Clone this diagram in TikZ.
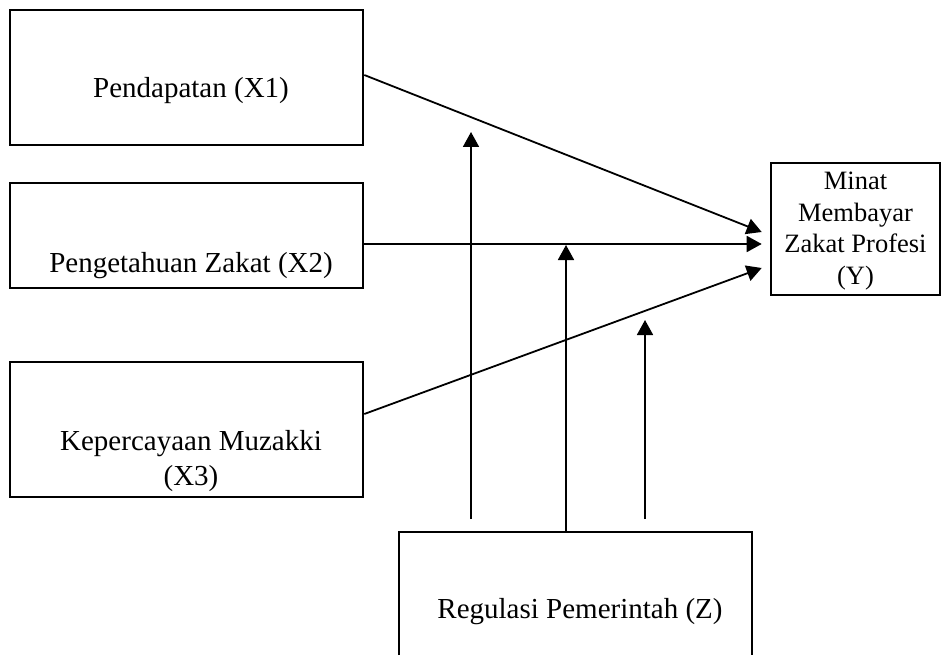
\documentclass[tikz,border=0pt]{standalone}
\usepackage{fontspec}
\setmainfont{Liberation Serif}
\usetikzlibrary{arrows.meta, positioning, calc}
\tikzset{
  box/.style={draw, line width=2.6pt, inner sep=0pt},
  lbl/.style={inner sep=0pt, font=\fontsize{29}{35}\selectfont, align=center},
  arr/.style={line width=1.8pt, -{Triangle[length=15pt, width=16pt]}},
  ln/.style={line width=1.8pt}
}
\begin{document}
\begin{tikzpicture}[x=1pt, y=-1pt]
        \useasboundingbox (0,0) rectangle (942,663);
        \node[box, minimum width=353pt, minimum height=135pt] (x1) at (186.5,77.5) {};
        \node[box, minimum width=353pt, minimum height=105pt] (x2) at (186.5,235.5) {};
        \node[box, minimum width=353pt, minimum height=135pt] (x3) at (186.5,429.5) {};
        \node[box, minimum width=169pt, minimum height=132pt] (y) at (855.5,229) {};
        \node[lbl, font=\fontsize{26.5}{31.5}\selectfont] (yt) at ($(y.center)+(0,2)$) {Minat\\Membayar\\Zakat Profesi\\(Y)};

        \node[lbl, anchor=base] (x1t) at (191,98) {Pendapatan (X1)};
        \node[lbl, anchor=base] (x2t) at (191,272) {Pengetahuan Zakat (X2)};
        \node[lbl, anchor=north] (x3t) at (191,430) {Kepercayaan Muzakki\\(X3)};

        \coordinate (zsw) at (399,655);
        \coordinate (znw) at (399,532);
        \coordinate (zne) at (752,532);
        \coordinate (zse) at (752,655);
        \draw[line width=2.6pt] (zsw) -- (znw) -- (zne) -- (zse);
        \node[lbl, anchor=base] (zt) at (580,618) {Regulasi Pemerintah (Z)};

        \coordinate (y1) at ($(y.west)+(-8,3)$);
        \coordinate (y2) at ($(y.west)+(-8,15)$);
        \coordinate (y3) at ($(y.west)+(-8,39)$);
        \draw[arr] ($(x1.east)+(0,-2.5)$) -- (y1);
        \draw[arr] ($(x2.east)+(0,8.5)$) -- (y2);
        \draw[arr] ($(x3.east)+(0,-15.5)$) -- (y3);

        \draw[arr] (471,519) -- (471,132);
        \draw[arr] (566,532) -- (566,245);
        \draw[arr] (645,519) -- (645,320);
    \end{tikzpicture}
\end{document}
